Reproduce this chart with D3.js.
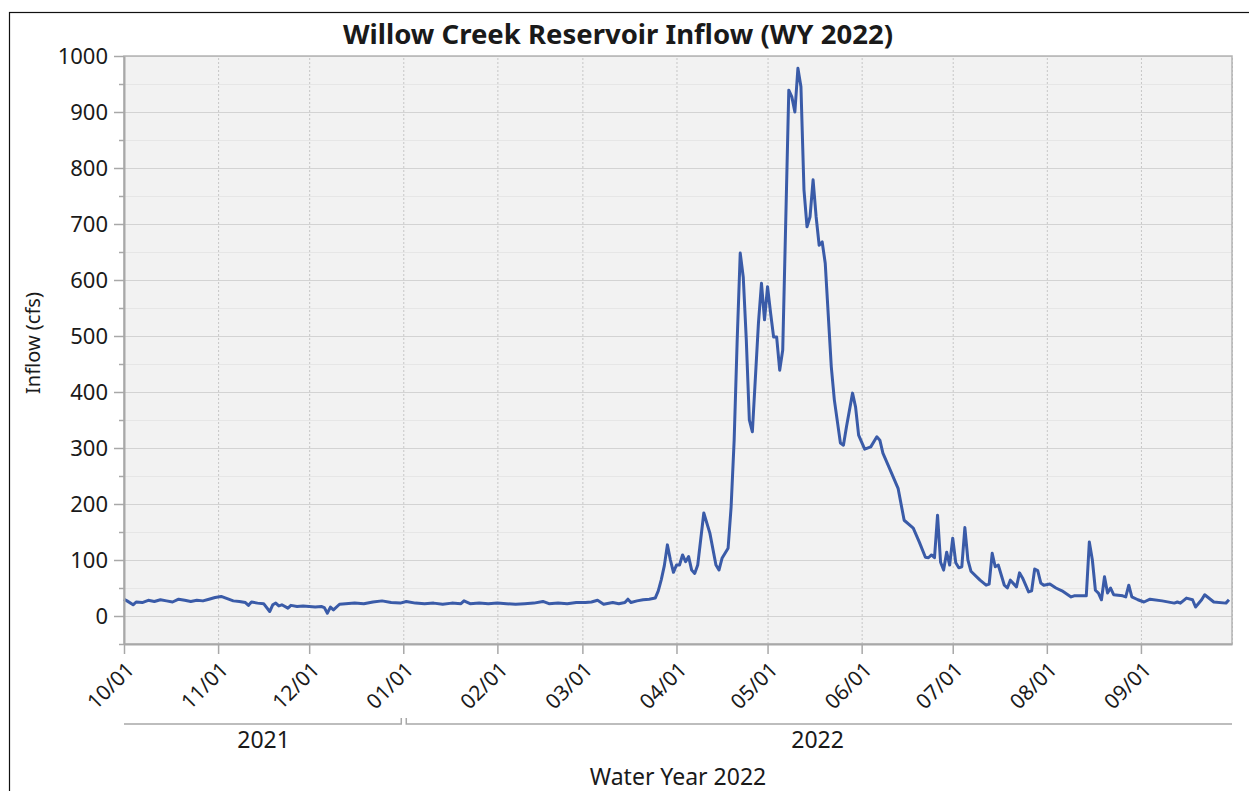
<!DOCTYPE html>
<html>
<head>
<meta charset="utf-8">
<script src="https://cdn.jsdelivr.net/npm/d3@7"></script>
<style>
  body { margin: 0; background: #fff; }
  svg text { font-family: "Noto Sans", sans-serif; fill: #1a1a1a; }
</style>
</head>
<body>
<div id="chart"></div>
<script>
// daily inflow (cfs)
var dates = [
  "2021-10-01","2021-10-02","2021-10-04","2021-10-05","2021-10-07","2021-10-09","2021-10-11","2021-10-13",
  "2021-10-15","2021-10-17","2021-10-19","2021-10-21","2021-10-23","2021-10-25","2021-10-27","2021-10-29",
  "2021-10-31","2021-11-02","2021-11-04","2021-11-06","2021-11-08","2021-11-10","2021-11-11","2021-11-12",
  "2021-11-14","2021-11-16","2021-11-18","2021-11-19","2021-11-20","2021-11-21","2021-11-22","2021-11-24",
  "2021-11-25","2021-11-27","2021-11-29","2021-12-01","2021-12-03","2021-12-05","2021-12-06","2021-12-07",
  "2021-12-08","2021-12-09","2021-12-11","2021-12-13","2021-12-16","2021-12-19","2021-12-22","2021-12-25",
  "2021-12-28","2021-12-31","2022-01-02","2022-01-05","2022-01-08","2022-01-11","2022-01-14","2022-01-17",
  "2022-01-20","2022-01-21","2022-01-23","2022-01-26","2022-01-29","2022-02-01","2022-02-04","2022-02-07",
  "2022-02-10","2022-02-13","2022-02-16","2022-02-18","2022-02-21","2022-02-24","2022-02-27","2022-03-02",
  "2022-03-04","2022-03-06","2022-03-08","2022-03-11","2022-03-13","2022-03-15","2022-03-16","2022-03-17",
  "2022-03-19","2022-03-21","2022-03-23","2022-03-25","2022-03-26","2022-03-27","2022-03-28","2022-03-29",
  "2022-03-30","2022-03-31","2022-04-01","2022-04-02","2022-04-03","2022-04-04","2022-04-05","2022-04-06",
  "2022-04-07","2022-04-08","2022-04-10","2022-04-12","2022-04-14","2022-04-15","2022-04-16","2022-04-18",
  "2022-04-19","2022-04-20","2022-04-21","2022-04-22","2022-04-23","2022-04-24","2022-04-25","2022-04-26",
  "2022-04-28","2022-04-29","2022-04-30","2022-05-01","2022-05-02","2022-05-03","2022-05-04","2022-05-05",
  "2022-05-06","2022-05-08","2022-05-09","2022-05-10","2022-05-11","2022-05-12","2022-05-13","2022-05-14",
  "2022-05-15","2022-05-16","2022-05-17","2022-05-18","2022-05-19","2022-05-20","2022-05-22","2022-05-23",
  "2022-05-25","2022-05-26","2022-05-27","2022-05-29","2022-05-30","2022-05-31","2022-06-02","2022-06-04",
  "2022-06-06","2022-06-07","2022-06-08","2022-06-10","2022-06-13","2022-06-15","2022-06-18","2022-06-20",
  "2022-06-22","2022-06-23","2022-06-24","2022-06-25","2022-06-26","2022-06-27","2022-06-28","2022-06-29",
  "2022-06-30","2022-07-01","2022-07-02","2022-07-03","2022-07-04","2022-07-05","2022-07-06","2022-07-07",
  "2022-07-10","2022-07-12","2022-07-13","2022-07-14","2022-07-15","2022-07-16","2022-07-18","2022-07-19",
  "2022-07-20","2022-07-22","2022-07-23","2022-07-24","2022-07-26","2022-07-27","2022-07-28","2022-07-29",
  "2022-07-30","2022-07-31","2022-08-02","2022-08-04","2022-08-06","2022-08-09","2022-08-10","2022-08-14",
  "2022-08-15","2022-08-16","2022-08-17","2022-08-18","2022-08-19","2022-08-20","2022-08-21","2022-08-22",
  "2022-08-23","2022-08-26","2022-08-27","2022-08-28","2022-08-29","2022-08-31","2022-09-02","2022-09-04",
  "2022-09-08","2022-09-12","2022-09-13","2022-09-14","2022-09-16","2022-09-18","2022-09-19","2022-09-21",
  "2022-09-22","2022-09-25","2022-09-29","2022-09-30"
];
var inflow = [
  30,27,20,25,24,28,26,29,
  27,25,30,28,26,28,27,30,
  33,35,31,27,26,24,19,25,
  23,22,8,20,23,18,20,14,
  19,17,18,17,16,17,15,5,
  16,11,21,22,23,22,25,27,
  24,23,26,23,22,23,21,23,
  22,27,22,23,22,23,22,21,
  22,23,26,22,23,22,24,24,
  25,28,21,24,22,24,30,24,
  27,29,30,32,45,65,90,127,
  100,78,91,91,109,97,106,82,
  76,91,184,148,91,82,103,121,
  195,314,493,648,605,493,350,329,
  523,594,529,588,541,498,498,439,
  475,939,927,900,978,945,761,695,
  713,779,713,662,668,630,445,386,
  309,305,338,398,373,323,298,302,
  320,314,291,266,228,171,157,132,
  105,104,109,104,180,96,82,114,
  91,139,95,86,88,158,100,80,
  64,55,57,112,88,91,55,50,
  64,52,77,68,43,45,84,81,
  59,55,57,50,45,34,36,36,
  132,100,46,41,29,70,41,50,
  38,36,34,55,34,29,25,30,
  27,23,25,23,32,29,16,29,
  38,25,23,29
];
var yMajor = [0,100,200,300,400,500,600,700,800,900,1000];
var yMinor = [-50,50,150,250,350,450,550,650,750,850,950];
var years = [
  { label: "2021", start: "2021-10-01", end: "2022-01-01" },
  { label: "2022", start: "2022-01-01", end: "2022-10-01" }
];

var width = 1249, height = 791;
var margin = { top: 56, right: 17, bottom: 147, left: 124 };
var w = width - margin.left - margin.right;
var h = height - margin.top - margin.bottom;

var parse = d3.utcParse("%Y-%m-%d");
var data = dates.map(function(d, i) { return { date: parse(d), value: inflow[i] }; });

var svg = d3.select("#chart").append("svg")
  .attr("width", width)
  .attr("height", height);

// outer frame (right and bottom edges fall outside the picture)
svg.append("rect")
  .attr("x", 9.5).attr("y", 12.5)
  .attr("width", width + 20).attr("height", height + 20)
  .attr("fill", "none").attr("stroke", "#111").attr("stroke-width", 1.2);

var x = d3.scaleUtc()
  .domain([parse("2021-10-01"), parse("2022-10-01")])
  .range([0, w]);
var y = d3.scaleLinear()
  .domain([-50, 1000])
  .range([h, 0]);

var g = svg.append("g")
  .attr("transform", "translate(" + margin.left + "," + margin.top + ")");

g.append("rect")
  .attr("width", w).attr("height", h)
  .attr("fill", "#f2f2f2");

// grid
g.append("g")
  .attr("class", "grid-minor")
  .call(d3.axisLeft(y).tickValues(yMinor).tickSize(-w).tickFormat(""))
  .call(function(s) { s.select(".domain").remove(); })
  .selectAll("line").attr("stroke", "#e6e6e6");
g.append("g")
  .attr("class", "grid")
  .call(d3.axisLeft(y).tickValues(yMajor).tickSize(-w).tickFormat(""))
  .call(function(s) { s.select(".domain").remove(); })
  .selectAll("line").attr("stroke", "#d3d3d3").attr("stroke-width", 1.2);
g.append("g")
  .attr("class", "grid")
  .attr("transform", "translate(0," + h + ")")
  .call(d3.axisBottom(x).ticks(d3.utcMonth.every(1)).tickSize(-h).tickFormat(""))
  .call(function(s) { s.select(".domain").remove(); })
  .selectAll("line").attr("stroke", "#c6c6c6").attr("stroke-dasharray", "2,2");

// plot frame
g.append("rect")
  .attr("width", w).attr("height", h)
  .attr("fill", "none").attr("stroke", "#b4b4b4").attr("stroke-width", 1.5);

// series
var line = d3.line()
  .x(function(d) { return x(d.date); })
  .y(function(d) { return y(d.value); });
g.append("path")
  .datum(data)
  .attr("fill", "none")
  .attr("stroke", "#3a5ba8")
  .attr("stroke-width", 3)
  .attr("stroke-linejoin", "round")
  .attr("d", line);

// y axis
var yAxis = g.append("g")
  .call(d3.axisLeft(y).tickValues(yMajor).tickFormat(d3.format("d"))
    .tickSize(10).tickSizeOuter(0).tickPadding(6));
yAxis.select(".domain").attr("stroke", "#a8a8a8").attr("stroke-width", 2);
yAxis.selectAll(".tick line").attr("stroke", "#a8a8a8").attr("stroke-width", 1.5);
yAxis.selectAll("text").attr("font-size", "22px").attr("font-family", "Noto Sans").attr("fill", "#1a1a1a");
g.append("g")
  .call(d3.axisLeft(y).tickValues(yMinor).tickSize(5).tickFormat(""))
  .call(function(s) { s.select(".domain").remove(); })
  .selectAll("line").attr("stroke", "#a8a8a8").attr("stroke-width", 1.5);

// x axis
var xAxis = g.append("g")
  .attr("transform", "translate(0," + h + ")")
  .call(d3.axisBottom(x).ticks(d3.utcMonth.every(1)).tickFormat(d3.utcFormat("%m/%d"))
    .tickSize(10).tickSizeOuter(0));
xAxis.select(".domain").attr("stroke", "#a8a8a8").attr("stroke-width", 2);
xAxis.selectAll(".tick line").attr("stroke", "#a8a8a8").attr("stroke-width", 1.5);
xAxis.selectAll(".tick").filter(function(d) { return +d >= +x.domain()[1]; }).remove();
xAxis.selectAll("text")
  .attr("font-size", "21px").attr("font-family", "Noto Sans").attr("fill", "#1a1a1a")
  .attr("text-anchor", "end")
  .attr("y", 0).attr("dy", 0)
  .attr("transform", "translate(11,27) rotate(-45)");

// year brackets
var band = g.append("g").attr("transform", "translate(0," + (h + 80) + ")");
years.forEach(function(yr, i) {
  var x0 = x(parse(yr.start)) + (i > 0 ? 3 : 0);
  var x1 = x(parse(yr.end)) - (i === 0 ? 2 : 0);
  var p = d3.path();
  if (i > 0) { p.moveTo(x0, -6); p.lineTo(x0, 0); } else { p.moveTo(x0, 0); }
  p.lineTo(x1, 0);
  if (i === 0) p.lineTo(x1, -6);
  band.append("path")
    .attr("d", p.toString())
    .attr("fill", "none").attr("stroke", "#a8a8a8").attr("stroke-width", 1.5);
  band.append("text")
    .attr("x", (x(parse(yr.start)) + x(parse(yr.end))) / 2)
    .attr("y", 24)
    .attr("text-anchor", "middle")
    .attr("font-size", "23px")
    .text(yr.label);
});

// titles
svg.append("text")
  .attr("x", 618).attr("y", 44)
  .attr("text-anchor", "middle")
  .attr("font-size", "27.5px").attr("font-weight", "bold")
  .attr("fill", "#000")
  .text("Willow Creek Reservoir Inflow (WY 2022)");
svg.append("text")
  .attr("x", margin.left + w / 2).attr("y", 785)
  .attr("text-anchor", "middle")
  .attr("font-size", "23px")
  .text("Water Year 2022");
svg.append("text")
  .attr("transform", "translate(40," + (margin.top + h / 2 - 7) + ") rotate(-90)")
  .attr("text-anchor", "middle")
  .attr("font-size", "20px")
  .text("Inflow (cfs)");
</script>
</body>
</html>
